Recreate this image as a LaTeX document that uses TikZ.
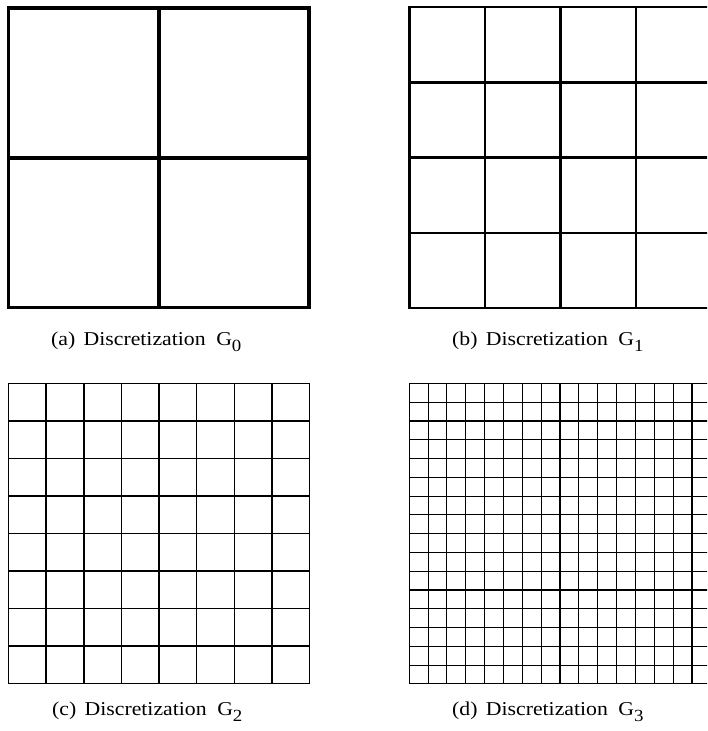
\documentclass[tikz,border=0pt]{standalone}
\usepackage{fontspec}
\setmainfont{Liberation Serif}
\newcommand{\capt}[2]{\scalebox{1.11}[1]{(#1)\hspace{7.5pt}Discretization\hspace{9.5pt}G\raisebox{-6pt}{\fontsize{17}{17}\selectfont #2}}}
\begin{document}
\begin{tikzpicture}[x=1pt,y=-1pt,
  gridline/.style={draw=black,line join=miter},
  captext/.style={anchor=base west,inner sep=0pt,font=\fontsize{19.6}{21}\selectfont}]
\useasboundingbox (0,0) rectangle (707,731);
\clip (0,0) rectangle (707,731);
% (a) 2x2
\begin{scope}[gridline,line width=3.5pt]
  \draw (8.5,8) rectangle (309,307.5);
  \draw (158.75,8) -- (158.75,307.5);
  \draw (8.5,157.75) -- (309,157.75);
\end{scope}
% (b) 4x4
\begin{scope}[gridline,line width=2.3pt]
  \draw (409.5,7.2) rectangle (711.5,308);
  \foreach \i in {1,2,3} {
    \draw (409.5+\i*75.5,7.2) -- (409.5+\i*75.5,308);
    \draw (409.5,7.2+\i*75.2) -- (711.5,7.2+\i*75.2);
  }
\end{scope}
% (c) 8x8
\begin{scope}[gridline,line width=1.5pt]
  \draw (8.5,383.5) rectangle (309.5,683.5);
  \foreach \i in {1,...,7} {
    \draw (8.5+\i*37.625,383.5) -- (8.5+\i*37.625,683.5);
    \draw (8.5,383.5+\i*37.5) -- (309.5,383.5+\i*37.5);
  }
\end{scope}
% (d) 16x16
\begin{scope}[gridline,line width=1.1pt]
  \draw (409.2,383.5) rectangle (710.8,683.8);
  \foreach \i in {1,...,15} {
    \draw (409.2+\i*18.85,383.5) -- (409.2+\i*18.85,683.8);
    \draw (409.2,383.5+\i*18.77) -- (710.8,383.5+\i*18.77);
  }
\end{scope}
% captions
\node[captext] (capa) at (51,345.5) {\capt{a}{0}};
\node[captext] (capb) at (452,345.5) {\capt{b}{1}};
\node[captext] (capc) at (52,715.5) {\capt{c}{2}};
\node[captext] (capd) at (452,715.5) {\capt{d}{3}};
\end{tikzpicture}
\end{document}
